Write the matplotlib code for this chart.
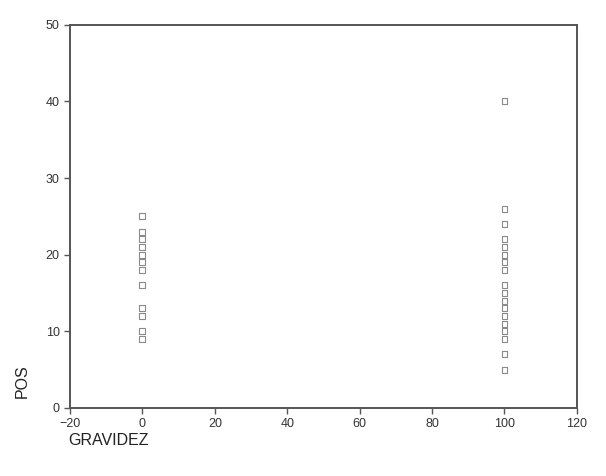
import matplotlib
matplotlib.use("Agg")
import matplotlib.pyplot as plt

# GRAVIDEZ = 0 group
pos_gravidez_0 = [25, 23, 22, 21, 20, 19, 18, 16, 13, 12, 10, 9]
# GRAVIDEZ = 100 group
pos_gravidez_100 = [40, 26, 24, 22, 21, 20, 19, 18, 16, 15, 14, 13, 12, 11, 10, 9, 7, 5]

x_ticks = [-20, 0, 20, 40, 60, 80, 100, 120]
y_ticks = [0, 10, 20, 30, 40, 50]

plt.rcParams['font.family'] = ['Liberation Sans', 'DejaVu Sans']

fig = plt.figure(figsize=(6.06, 4.76), dpi=100)
ax = fig.add_axes([0.1155, 0.143, 0.8365, 0.805])

x = [0] * len(pos_gravidez_0) + [100] * len(pos_gravidez_100)
y = pos_gravidez_0 + pos_gravidez_100
ax.scatter(x, y, marker='s', s=18, facecolors='none', edgecolors='#8a8a8a', linewidths=0.8)

ax.set_xlim(-20, 120)
ax.set_ylim(0, 50)
ax.set_xticks(x_ticks)
ax.set_yticks(y_ticks)
ax.tick_params(direction='out', length=4, width=1, colors='#555555', labelsize=9, labelcolor='#333333')

for sp in ax.spines.values():
    sp.set_color('#555555')
    sp.set_linewidth(1.4)

fig.text(0.036, 0.80 - 0.60, 'POS', rotation=90, fontsize=11.5, color='#222222', va='center', ha='center')
fig.text(0.113, 0.075, 'GRAVIDEZ', fontsize=11.5, color='#222222', va='center', ha='left')

fig.savefig('out.png', dpi=100)
